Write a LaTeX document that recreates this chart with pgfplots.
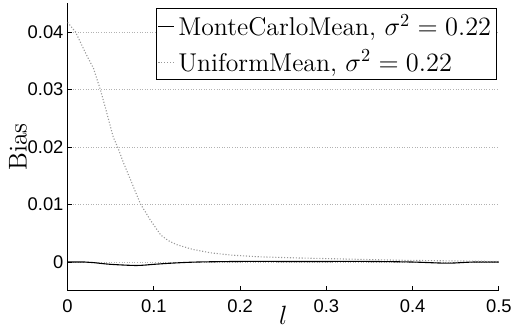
\documentclass[border=0pt]{standalone}
\usepackage{fontspec}
\usepackage{pgfplots}
\pgfplotsset{compat=1.18}
\newfontfamily\helv{Liberation Sans}
\begin{document}
\begin{tikzpicture}
\begin{axis}[
  scale only axis,
  width=235pt, height=156.6pt,
  xmin=0, xmax=0.5, ymin=-0.005, ymax=0.045,
  scaled ticks=false,
  axis x line*=bottom, axis y line*=left,
  axis line style={-, black, line width=0.6pt},
  xtick={0,0.1,0.2,0.3,0.4,0.5},
  ytick={0,0.01,0.02,0.03,0.04},
  yticklabels={0,0.01,0.02,0.03,0.04},
  xticklabels={0,0.1,0.2,0.3,0.4,0.5},
  tick align=inside,
  major tick length=2.5pt,
  tick style={black, line width=0.5pt},
  ymajorgrids,
  grid style={densely dotted, gray!60, line width=0.4pt},
  ticklabel style={font=\helv\fontsize{10}{12}\selectfont},
  yticklabel style={xshift=1.3pt},
  xticklabel style={yshift=-1.3pt},
  xlabel={$l$}, ylabel={Bias},
  label style={font=\fontsize{14}{16}\selectfont, inner sep=0pt},
  xlabel style={at={(axis description cs:0.5,-0.086)}, anchor=center},
  ylabel style={at={(axis description cs:-0.115,0.5)}, anchor=center},
  legend style={at={(0.996,0.983)}, anchor=north east, draw=black, line width=0.6pt,
    font=\fontsize{14}{15}\selectfont, inner sep=1pt, row sep=2.3pt,
    legend cell align=left},
  legend image code/.code={\draw[#1] (0cm,0cm) -- (0.3cm,0cm);},
]
\addplot[black, line width=0.6pt, smooth] coordinates {
(0,0) (0.02,0) (0.03,-0.0001) (0.05,-0.0004) (0.08,-0.0006) (0.1,-0.0004)
(0.12,-0.0002) (0.15,0) (0.2,0.0001) (0.25,0.0001) (0.3,0.0001) (0.35,0.0001)
(0.4,0) (0.44,-0.0002) (0.47,0) (0.5,0)
};
\addlegendentry{MonteCarloMean, $\sigma^2=0.22$}
\addplot[gray!80, densely dotted, line width=0.6pt] coordinates {
(0,0.0417) (0.0093,0.040) (0.021,0.0363) (0.030,0.0337) (0.038,0.030)
(0.045,0.0262) (0.053,0.0217) (0.058,0.020) (0.065,0.0172) (0.073,0.0143)
(0.0845,0.0101) (0.096,0.0073) (0.108,0.0047) (0.117,0.0037) (0.127,0.0030)
(0.145,0.0022) (0.166,0.0016) (0.19,0.0012) (0.223,0.0009) (0.27,0.0007)
(0.328,0.0005) (0.39,0.0003) (0.443,0.0002) (0.5,0.0001)
};
\addlegendentry{UniformMean, $\sigma^2=0.22$}
\end{axis}
\pgfresetboundingbox
\path[use as bounding box] ([xshift=-36.8pt,yshift=-20.3pt]current axis.south west) rectangle ([xshift=8.2pt,yshift=1.8pt]current axis.north east);
\end{tikzpicture}
\end{document}
